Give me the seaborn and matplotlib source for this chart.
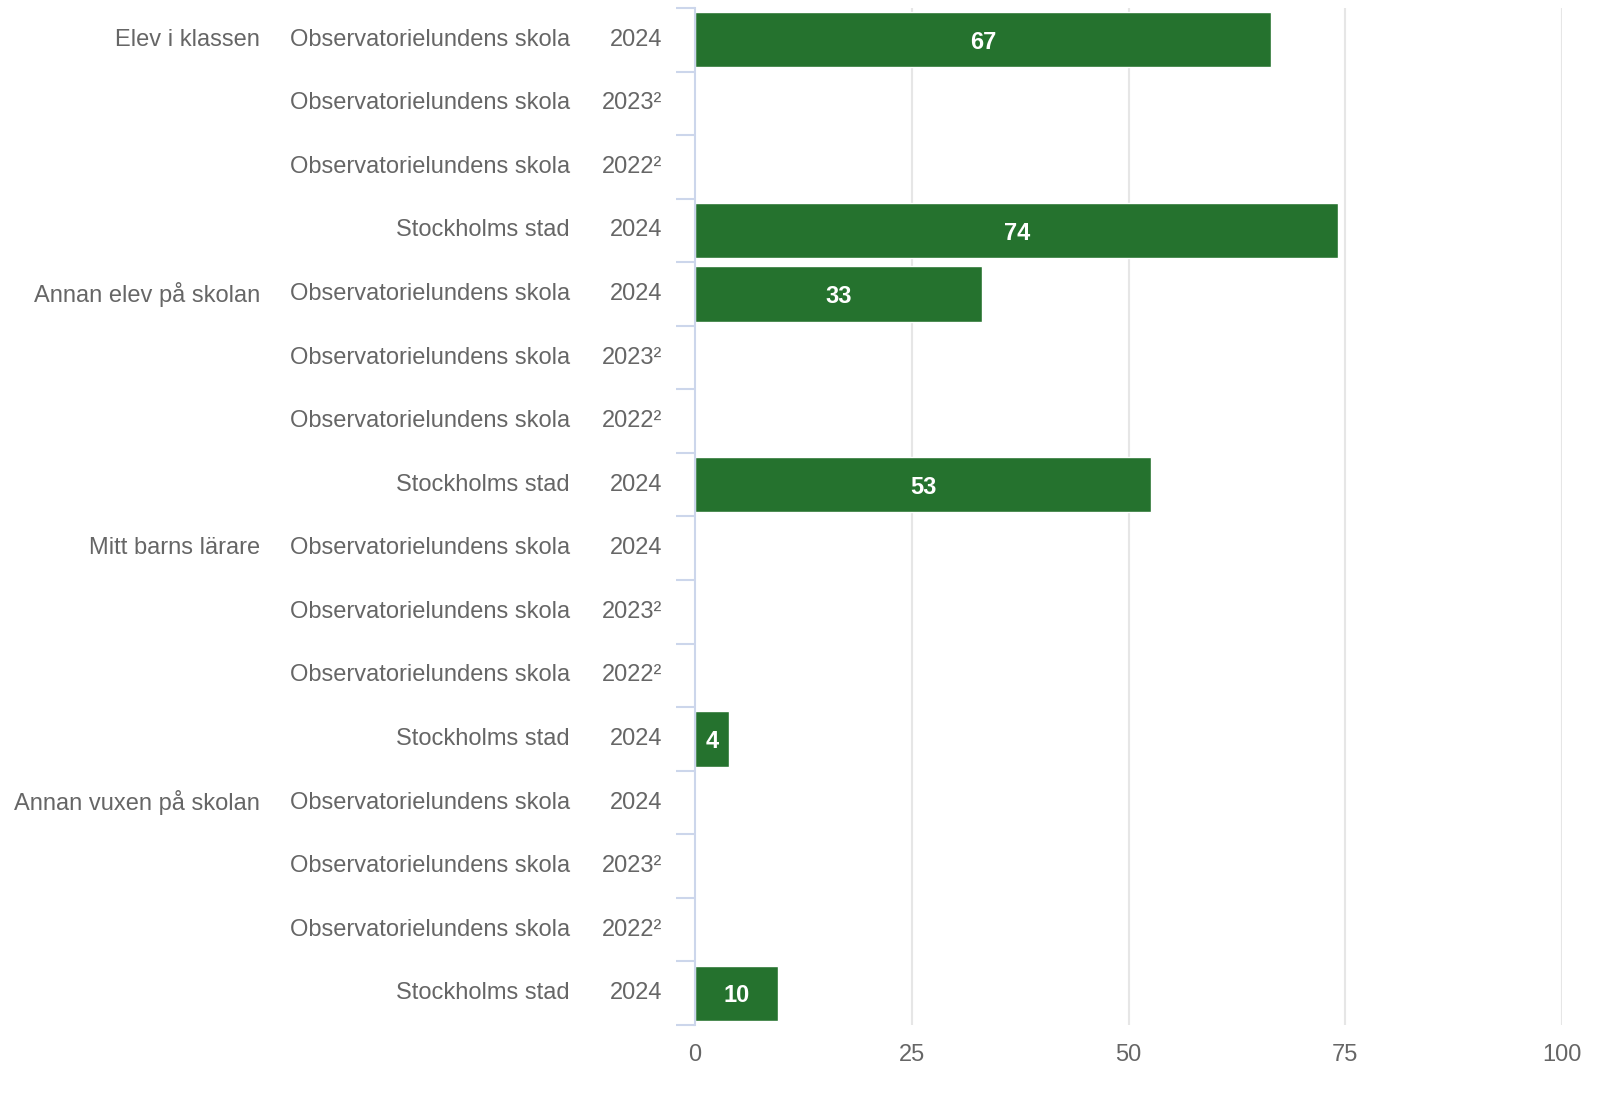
import matplotlib.pyplot as plt
import matplotlib.transforms as mtransforms
import numpy as np
import pandas as pd
import seaborn as sns

# Data
groups = ["Elev i klassen", "Annan elev på skolan", "Mitt barns lärare", "Annan vuxen på skolan"]
units = ["Observatorielundens skola", "Observatorielundens skola", "Observatorielundens skola", "Stockholms stad"]
years = ["2024", "2023²", "2022²", "2024"]
values = [66.4, np.nan, np.nan, 74.2,
          33.1, np.nan, np.nan, 52.6,
          np.nan, np.nan, np.nan, 3.9,
          np.nan, np.nan, np.nan, 9.6]
value_labels = ["67", "", "", "74",
                "33", "", "", "53",
                "", "", "", "4",
                "", "", "", "10"]
x_ticks = [0, 25, 50, 75, 100]

BAR_COLOR = "#25722e"
TEXT_COLOR = "#666666"
AXIS_COLOR = "#ccd6eb"
GRID_COLOR = "#e6e6e6"

rows = []
for g in groups:
    for u, y in zip(units, years):
        rows.append({"group": g, "unit": u, "year": y})
df = pd.DataFrame(rows)
df["value"] = values
df["label"] = value_labels
df["row"] = [f"r{i}" for i in range(len(df))]

sns.set_theme(style="white")
plt.rcParams["font.family"] = ["Liberation Sans", "DejaVu Sans"]

fig = plt.figure(figsize=(16.14, 10.98), dpi=100)
ax = fig.add_axes([0.4306, 0.0665, 0.5372, 0.9262])

sns.barplot(data=df, x="value", y="row", orient="h", color=BAR_COLOR,
            width=0.87, saturation=1, ax=ax, order=df["row"].tolist())

ax.set_xlim(0, 100)
ax.set_ylim(len(df) - 0.5, -0.5)
ax.set_xticks(x_ticks)
ax.set_xticklabels([str(t) for t in x_ticks], fontsize=17, color=TEXT_COLOR)
ax.tick_params(axis="x", length=0, pad=14)
ax.set_xlabel("")
ax.set_ylabel("")

# gridlines
for t in x_ticks[1:]:
    ax.axvline(t, color=GRID_COLOR, lw=1.5, zorder=0)

for s in ["top", "right", "bottom"]:
    ax.spines[s].set_visible(False)
ax.spines["left"].set_color(AXIS_COLOR)
ax.spines["left"].set_linewidth(1.5)

# ticks between categories
ax.set_yticks(np.arange(-0.5, len(df), 1.0))
ax.set_yticklabels([])
ax.tick_params(axis="y", left=True, length=14, width=1.5, color=AXIS_COLOR, direction="out")

# three label columns
trans = mtransforms.blended_transform_factory(fig.transFigure, ax.transData)
for i, r in df.iterrows():
    ax.text(662 / 1614, i, r["year"], transform=trans, ha="right", va="center",
            fontsize=17, color=TEXT_COLOR)
    ax.text(570 / 1614, i, r["unit"], transform=trans, ha="right", va="center",
            fontsize=17, color=TEXT_COLOR)
    if i % 4 == 0:
        ax.text(260 / 1614, i, r["group"], transform=trans, ha="right", va="center",
                fontsize=17, color=TEXT_COLOR)

# value labels inside bars
for i, r in df.iterrows():
    if r["label"]:
        ax.text(r["value"] / 2, i + 0.04, r["label"], ha="center", va="center",
                fontsize=17, color="white", fontweight="bold")

fig.savefig("out.png", dpi=100)
